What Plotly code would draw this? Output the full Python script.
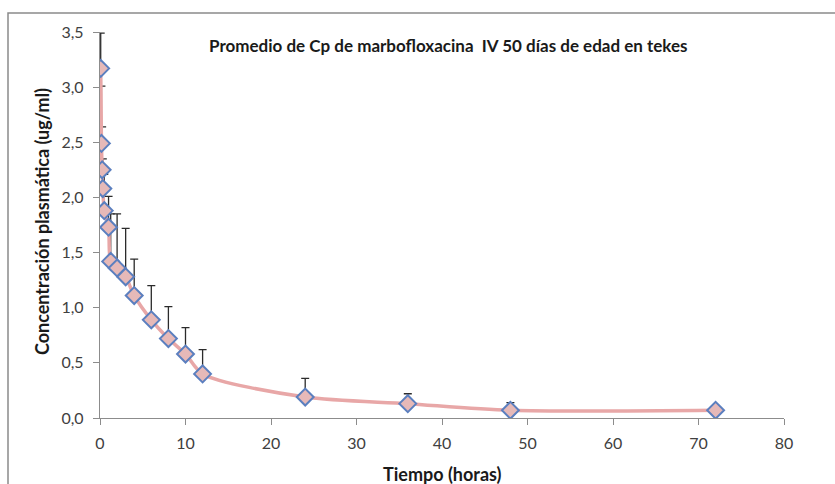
import plotly.graph_objects as go

tiempo = [0.083, 0.167, 0.25, 0.33, 0.5, 1, 1.25, 2, 3, 4, 6, 8, 10, 12, 24, 36, 48, 72]
cp = [3.17, 2.49, 2.25, 2.08, 1.88, 1.73, 1.42, 1.36, 1.28, 1.11, 0.89, 0.72, 0.58, 0.40, 0.19, 0.13, 0.07, 0.07]
de = [0.32, 0.52, 0.39, 0.27, 0.33, 0.28, 0.43, 0.49, 0.44, 0.33, 0.31, 0.29, 0.24, 0.22, 0.17, 0.09, 0.07, 0.0]

x_ticks = [0, 10, 20, 30, 40, 50, 60, 70, 80]
y_ticks = [0.0, 0.5, 1.0, 1.5, 2.0, 2.5, 3.0, 3.5]
y_labels = ["0,0", "0,5", "1,0", "1,5", "2,0", "2,5", "3,0", "3,5"]

title = "Promedio de Cp de marbofloxacina  IV 50 días de edad en tekes"
x_title = "Tiempo (horas)"
y_title = "Concentración plasmática (ug/ml)"

FONT = "Lato"

fig = go.Figure()
fig.add_trace(go.Scatter(
    x=tiempo, y=cp,
    mode="lines+markers",
    line=dict(color="#E8A7A7", width=3.5, shape="spline", smoothing=0.8),
    marker=dict(symbol="diamond", size=13, color="#E6B9B8",
                line=dict(color="#5B7FBF", width=2)),
    error_y=dict(type="data", symmetric=False, array=de,
                 arrayminus=[0] * len(de), color="#2b2b2b",
                 thickness=1.3, width=4),
    showlegend=False,
))

axis_col = "#8C8C8C"
fig.update_layout(
    width=835, height=484,
    margin=dict(l=100, r=51, t=32, b=66),
    paper_bgcolor="white", plot_bgcolor="white",
    font=dict(family=FONT, color="#404040"),
    xaxis=dict(range=[0, 80], tickvals=x_ticks, ticktext=[str(v) for v in x_ticks],
               showgrid=False, zeroline=False, showline=True,
               linecolor=axis_col, linewidth=1.3, ticks="outside",
               ticklen=6, tickcolor=axis_col, tickwidth=1.3,
               tickfont=dict(size=16, family=FONT, color="#404040"),
               ticklabelstandoff=5),
    yaxis=dict(range=[0, 3.5], tickvals=y_ticks, ticktext=y_labels,
               showgrid=False, zeroline=False, showline=True,
               linecolor=axis_col, linewidth=1.3, ticks="outside",
               ticklen=6, tickcolor=axis_col, tickwidth=1.3,
               tickfont=dict(size=16, family=FONT, color="#404040"),
               ticklabelstandoff=6),
)

# chart frame (cropped at right/bottom)
fig.add_shape(type="rect", xref="paper", yref="paper",
              x0=-0.1345, x1=1.2, y0=-0.4, y1=1.049,
              line=dict(color="#8A8A8A", width=1.5), fillcolor="rgba(0,0,0,0)",
              layer="below")

fig.add_annotation(text="<b>" + title + "</b>", xref="paper", yref="paper",
                   x=(449 - 100) / 684, y=(418 - 45) / 386,
                   xanchor="center", yanchor="middle", showarrow=False,
                   font=dict(size=17, family=FONT, color="#1a1a1a"))
fig.add_annotation(text="<b>" + x_title + "</b>", xref="paper", yref="paper",
                   x=0.5, y=(418 - 474) / 386,
                   xanchor="center", yanchor="middle", showarrow=False,
                   font=dict(size=18, family=FONT, color="#1a1a1a"))
fig.add_annotation(text="<b>" + y_title + "</b>", xref="paper", yref="paper",
                   x=(42 - 100) / 684, y=(418 - 222) / 386, textangle=-90,
                   xanchor="center", yanchor="middle", showarrow=False,
                   font=dict(size=18, family=FONT, color="#1a1a1a"))

fig.write_html("out.html")
